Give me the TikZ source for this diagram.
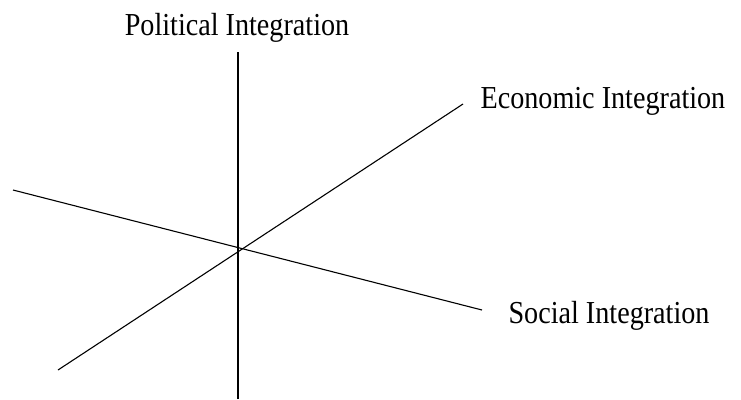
\documentclass[tikz,border=0pt]{standalone}
\usepackage{fontspec}
\setmainfont{Liberation Serif}
\newfontfamily\lblfont[FakeStretch=0.88]{Liberation Serif}
\usepackage{tikz}
\usetikzlibrary{positioning}
\newcommand{\axw}{1.1pt}

\begin{document}
\begin{tikzpicture}[x=1pt, y=-1pt, line width=\axw,
	axislabel/.style={inner sep=0pt, font=\lblfont\fontsize{32}{36}\selectfont}]
		\useasboundingbox (0, 0) rectangle (741, 399);
		% Center
		\coordinate (O) at (238, 250);
		% Political axis
		\coordinate (polT) at (238, 52);
		\coordinate (polB) at (238, 399);
		\draw (polB)--(polT);
		% Economic axis
		\coordinate (ecoL) at (58, 370);
		\coordinate (ecoR) at (463, 104);
		\draw (ecoL)--(ecoR);
		% Social axis
		\coordinate (socL) at (13, 190);
		\coordinate (socR) at (482, 310);
		\draw (socL)--(socR);
		%
		\node[axislabel, anchor=base] (pol) at (237, 35) {Political Integration};
		\node[axislabel, anchor=base west] (eco) at (480, 108) {Economic Integration};
		\node[axislabel, anchor=base west] (soc) at (508, 323) {Social Integration};
	\end{tikzpicture}
\end{document}
